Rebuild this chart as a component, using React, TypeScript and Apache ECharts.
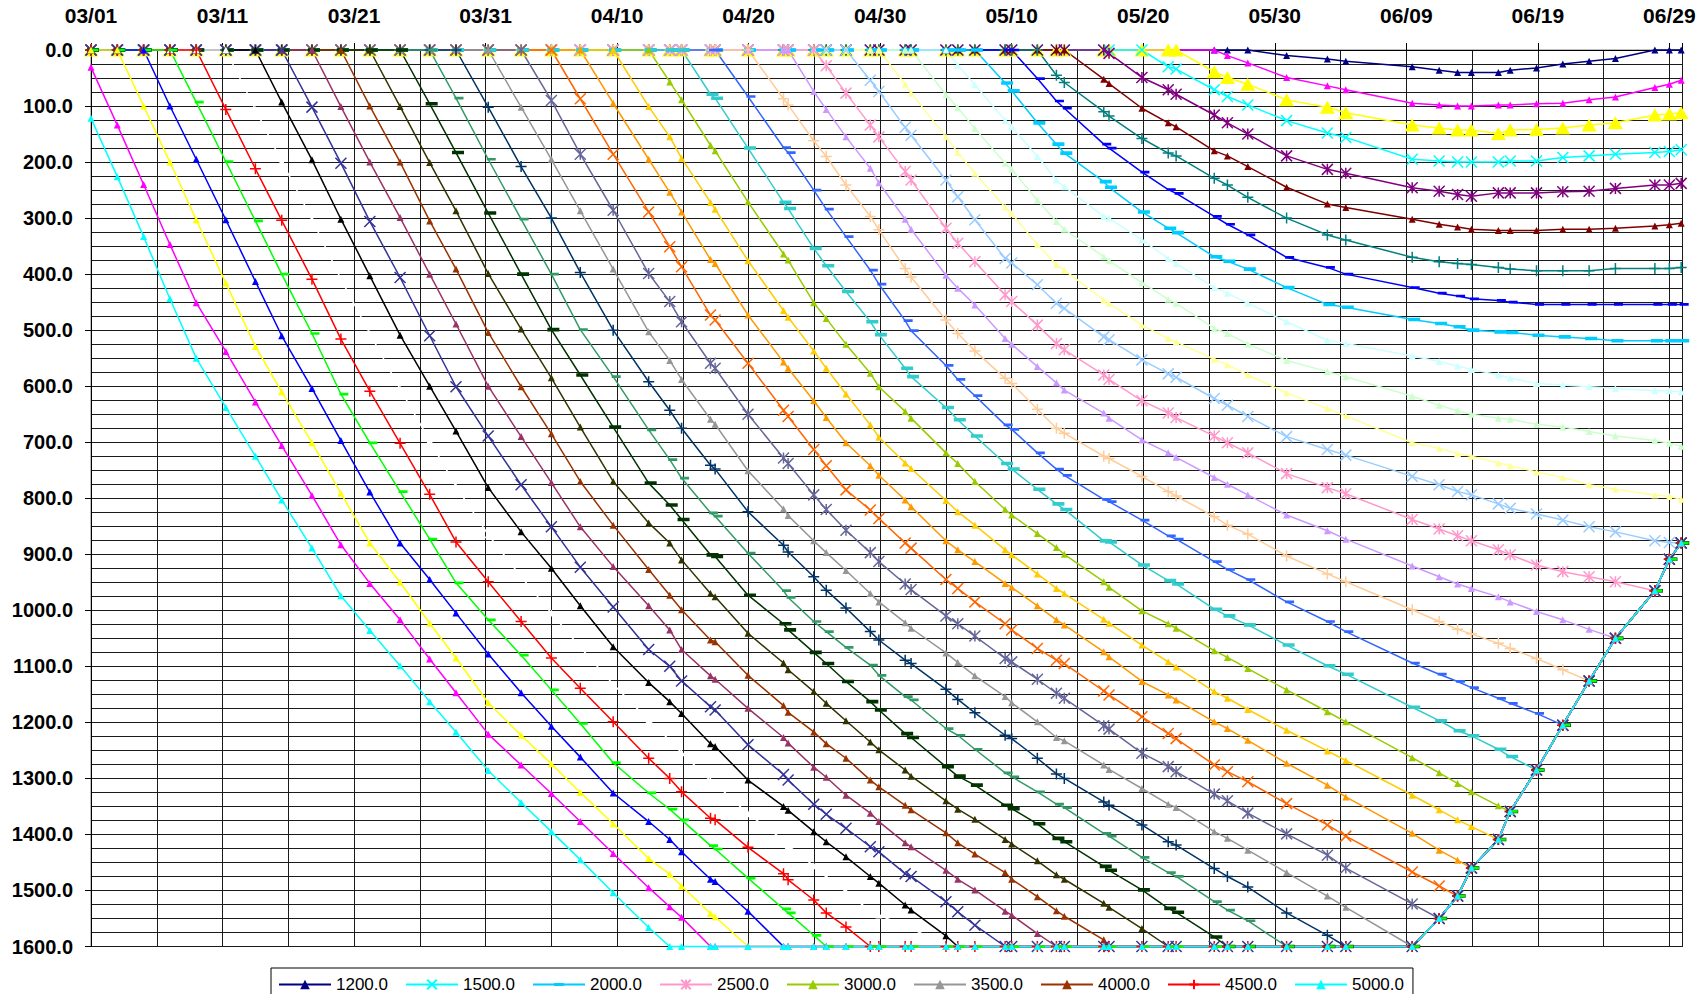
import React, { useEffect, useRef } from "react";
import * as echarts from "echarts";

// x positions of the observations, in days after 03/01
const days = [0, 2, 4, 6, 8, 10.25, 12.5, 14.5, 16.8, 19, 21.2, 23.5, 25.75, 27.75, 30.2, 32.7, 35, 37.2, 39.7, 42.4, 44, 44.9, 47.1, 47.45, 49.95, 52.65, 53, 54.95, 55.9, 57.4, 59.25, 59.9, 61.9, 62.35, 65, 65.9, 67.2, 69.5, 70, 71.95, 73.4, 74, 77, 77.4, 79.9, 81.9, 82.5, 85.4, 86.4, 87.95, 90.9, 94, 95.4, 100.45, 102.5, 103.9, 104.95, 107, 107.9, 109.9, 111.9, 113.9, 115.9, 118.9, 120, 120.9];

// common lower limit that all series follow once they reach it
const floorDepth = [1600, 1600, 1600, 1600, 1600, 1600, 1600, 1600, 1600, 1600, 1600, 1600, 1600, 1600, 1600, 1600, 1600, 1600, 1600, 1600, 1600, 1600, 1600, 1600, 1600, 1600, 1600, 1600, 1600, 1600, 1600, 1600, 1600, 1600, 1600, 1600, 1600, 1600, 1600, 1600, 1600, 1600, 1600, 1600, 1600, 1600, 1600, 1600, 1600, 1600, 1600, 1600, 1600, 1600, 1550, 1510, 1460, 1409, 1359, 1285, 1205, 1126, 1050, 965, 909, 880];

const xTickLabels = ["03/01", "03/11", "03/21", "03/31", "04/10", "04/20", "04/30", "05/10", "05/20", "05/30", "06/09", "06/19", "06/29"];
const yTickLabels = ["0.0", "100.0", "200.0", "300.0", "400.0", "500.0", "600.0", "700.0", "800.0", "900.0", "1000.0", "1100.0", "1200.0", "1300.0", "1400.0", "1500.0", "1600.0"];

const legendNames = ["1200.0", "1500.0", "2000.0", "2500.0", "3000.0", "3500.0", "4000.0", "4500.0", "5000.0"];

// number of leading zero observations for each series
const leads = [50, 48, 47, 45, 43, 42, 40, 39, 37, 35, 34, 32, 30, 28, 27, 25, 24, 22, 20, 19, 18, 17, 16, 15, 14, 13, 12, 11, 10, 9, 8, 7, 6, 5, 4, 3, 2, 0, 0];

// values after the leading zeros (until the series joins the common limit)
const s1200 = [10, 16, 20, 30, 36, 40, 40, 40, 36, 32, 25, 20, 15, 0, 0, 0];
const s1300 = [10, 23, 49, 64, 71, 95, 98, 100, 100, 98, 98, 96, 95, 89, 84, 67, 61, 54];
const s1400 = [39, 49, 61, 89, 102, 112, 134, 139, 143, 143, 149, 143, 142, 139, 134, 130, 116, 114, 112];
const s1500 = [30, 34, 71, 83, 98, 126, 148, 156, 195, 198, 200, 200, 200, 198, 198, 192, 189, 186, 183, 181, 178];
const s1600 = [6, 49, 71, 79, 116, 130, 150, 189, 213, 220, 246, 252, 258, 261, 255, 255, 255, 253, 252, 247, 241, 241, 238];
const s1700 = [52, 60, 104, 130, 137, 180, 189, 208, 245, 275, 281, 302, 311, 316, 320, 322, 322, 322, 320, 320, 318, 314, 312, 309];
const s1800 = [45, 58, 110, 118, 158, 184, 189, 229, 241, 263, 300, 330, 339, 370, 378, 381, 383, 388, 391, 394, 394, 394, 390, 390, 390, 388];
const s1900 = [51, 91, 104, 168, 175, 218, 249, 256, 297, 311, 330, 370, 388, 400, 424, 434, 439, 444, 447, 450, 454, 454, 454, 454, 454, 454, 454];
const s2000 = [59, 73, 130, 168, 184, 235, 245, 289, 318, 326, 369, 377, 391, 424, 454, 459, 481, 488, 494, 500, 503, 504, 509, 512, 515, 519, 519, 519, 519];
const s2100 = [27, 62, 126, 137, 190, 232, 244, 297, 300, 339, 372, 381, 424, 434, 452, 485, 518, 524, 546, 556, 564, 570, 580, 586, 595, 598, 601, 604, 608, 608, 610];
const s2200 = [80, 103, 140, 202, 213, 268, 306, 320, 369, 376, 415, 445, 452, 497, 506, 525, 554, 574, 583, 618, 634, 644, 650, 657, 659, 668, 673, 681, 689, 697, 702, 707];
const s2300 = [61, 77, 155, 183, 220, 280, 292, 347, 383, 393, 446, 452, 491, 515, 521, 552, 562, 580, 612, 640, 653, 701, 711, 720, 725, 737, 742, 753, 763, 776, 784, 794, 797, 802];
const s2400 = [54, 74, 138, 152, 232, 262, 303, 372, 380, 419, 452, 461, 512, 517, 553, 578, 584, 622, 634, 654, 690, 713, 723, 761, 776, 788, 794, 810, 818, 828, 839, 851, 860, 876, 879, 880];
const s2500 = [28, 77, 134, 155, 217, 232, 318, 345, 378, 437, 449, 491, 524, 535, 580, 588, 626, 648, 656, 689, 701, 719, 756, 781, 792, 838, 855, 867, 876, 892, 901, 919, 931, 940, 949];
const s2600 = [74, 106, 155, 211, 237, 302, 320, 402, 425, 455, 515, 525, 565, 594, 607, 648, 657, 696, 719, 727, 763, 775, 794, 830, 858, 873, 921, 940, 953, 961, 976, 985, 1002, 1017, 1034];
const s2700 = [87, 98, 162, 190, 241, 297, 321, 390, 405, 482, 506, 537, 586, 595, 641, 675, 684, 725, 729, 761, 788, 796, 833, 848, 864, 903, 935, 949, 999, 1020, 1034, 1042, 1059, 1068, 1086, 1106];
const s2800 = [83, 174, 183, 250, 284, 333, 393, 418, 483, 501, 563, 588, 617, 669, 677, 719, 748, 759, 802, 806, 839, 867, 873, 913, 927, 945, 985, 1020, 1038, 1094, 1114, 1127, 1138, 1157, 1166, 1184];
const s2900 = [79, 86, 175, 272, 283, 354, 385, 431, 485, 508, 568, 583, 638, 660, 689, 738, 748, 784, 810, 820, 876, 878, 919, 947, 953, 998, 1010, 1026, 1062, 1099, 1114, 1173, 1197, 1215, 1224, 1248, 1261];
const s3000 = [57, 89, 170, 180, 271, 364, 375, 451, 479, 525, 577, 601, 645, 657, 719, 738, 770, 820, 830, 863, 888, 900, 949, 959, 1001, 1024, 1032, 1072, 1084, 1104, 1142, 1181, 1199, 1263, 1290, 1309, 1324, 1349];
const s3100 = [101, 155, 193, 272, 284, 376, 465, 477, 537, 568, 614, 669, 691, 737, 747, 804, 824, 848, 892, 901, 935, 961, 970, 1016, 1023, 1062, 1092, 1101, 1145, 1157, 1177, 1214, 1251, 1268, 1330, 1356, 1374, 1386];
const s3200 = [95, 195, 254, 289, 374, 381, 473, 557, 568, 626, 656, 701, 742, 759, 803, 815, 876, 892, 913, 952, 959, 992, 1017, 1026, 1074, 1083, 1127, 1151, 1160, 1199, 1211, 1232, 1273, 1312, 1333, 1398, 1428, 1446];
const s3300 = [87, 186, 289, 351, 387, 473, 482, 559, 643, 654, 713, 742, 785, 821, 836, 880, 889, 945, 961, 985, 1024, 1035, 1068, 1089, 1095, 1144, 1151, 1190, 1220, 1229, 1276, 1288, 1306, 1345, 1383, 1403, 1467, 1492];
const s3400 = [90, 186, 286, 399, 449, 485, 559, 568, 650, 728, 738, 794, 820, 857, 897, 913, 953, 963, 1010, 1024, 1046, 1086, 1092, 1123, 1148, 1157, 1206, 1212, 1255, 1279, 1288, 1328, 1340, 1362, 1399, 1437, 1460, 1524];
const s3500 = [102, 195, 287, 391, 503, 554, 588, 659, 668, 751, 819, 831, 876, 897, 929, 970, 985, 1022, 1032, 1076, 1093, 1117, 1154, 1165, 1199, 1227, 1233, 1276, 1284, 1318, 1346, 1352, 1395, 1407, 1428, 1468, 1510, 1530];
const s3600 = [102, 208, 300, 397, 500, 592, 643, 675, 741, 748, 824, 884, 896, 940, 964, 996, 1038, 1053, 1089, 1095, 1141, 1159, 1183, 1223, 1229, 1264, 1292, 1300, 1342, 1348, 1383, 1413, 1419, 1461, 1475, 1494, 1540, 1580];
const s3700 = [86, 195, 302, 400, 499, 583, 678, 731, 764, 826, 832, 898, 965, 977, 1020, 1038, 1066, 1098, 1116, 1154, 1160, 1211, 1223, 1248, 1290, 1297, 1324, 1346, 1352, 1398, 1403, 1441, 1468, 1475, 1520, 1535, 1554];
const s3800 = [96, 183, 291, 400, 499, 580, 673, 773, 812, 838, 901, 904, 973, 1024, 1035, 1075, 1095, 1127, 1163, 1178, 1220, 1227, 1279, 1296, 1312, 1348, 1354, 1381, 1407, 1413, 1457, 1464, 1499, 1532, 1539, 1583];
const s3900 = [101, 201, 287, 399, 498, 585, 673, 770, 844, 880, 910, 970, 976, 1041, 1094, 1106, 1145, 1166, 1197, 1235, 1249, 1285, 1296, 1340, 1355, 1373, 1409, 1417, 1447, 1472, 1480, 1523, 1530, 1568];
const s4000 = [100, 200, 305, 391, 504, 601, 685, 770, 848, 927, 973, 999, 1053, 1056, 1116, 1170, 1182, 1217, 1238, 1264, 1303, 1315, 1348, 1356, 1397, 1415, 1435, 1468, 1480, 1511, 1536, 1546, 1588];
const s4100 = [101, 200, 299, 400, 489, 600, 690, 772, 851, 922, 992, 1035, 1070, 1117, 1123, 1175, 1227, 1237, 1280, 1298, 1330, 1362, 1377, 1415, 1422, 1464, 1480, 1499, 1537, 1544, 1577];
const s4200 = [102, 202, 306, 406, 510, 601, 689, 776, 851, 923, 994, 1070, 1100, 1126, 1172, 1178, 1240, 1293, 1303, 1346, 1364, 1389, 1422, 1431, 1470, 1475, 1520, 1538, 1562];
const s4300 = [93, 196, 302, 403, 509, 600, 680, 781, 860, 925, 992, 1065, 1129, 1163, 1184, 1238, 1243, 1303, 1350, 1357, 1395, 1413, 1440, 1475, 1487, 1526, 1535, 1581];
const s4400 = [106, 199, 302, 409, 506, 605, 697, 779, 865, 940, 1005, 1066, 1132, 1196, 1232, 1254, 1304, 1309, 1363, 1410, 1420, 1456, 1476, 1502, 1537, 1544, 1563, 1567];
const s4500 = [106, 212, 304, 409, 516, 609, 702, 793, 878, 949, 1020, 1085, 1139, 1199, 1264, 1300, 1324, 1371, 1374, 1423, 1470, 1481, 1517, 1540, 1565];
const s4600 = [93, 199, 305, 400, 506, 614, 701, 788, 873, 951, 1017, 1080, 1142, 1202, 1272, 1326, 1355, 1374, 1420, 1426, 1478, 1533, 1540, 1580];
const s4700 = [100, 195, 303, 413, 510, 604, 697, 789, 880, 945, 1005, 1078, 1147, 1207, 1262, 1326, 1377, 1409, 1431, 1480, 1484, 1537];
const s4800 = [100, 200, 303, 416, 529, 610, 701, 791, 880, 950, 1023, 1085, 1165, 1223, 1274, 1325, 1381, 1443, 1471, 1492, 1541, 1547];
const s4900 = [31, 134, 240, 347, 451, 538, 628, 706, 795, 883, 952, 1017, 1087, 1147, 1221, 1276, 1327, 1377, 1434, 1495, 1529, 1548];
const s5000 = [122, 226, 333, 444, 550, 638, 725, 803, 889, 974, 1036, 1099, 1163, 1217, 1286, 1343, 1395, 1445, 1504, 1566];

const seriesNames = ["1200.0", "1300.0", "1400.0", "1500.0", "1600.0", "1700.0", "1800.0", "1900.0", "2000.0", "2100.0", "2200.0", "2300.0", "2400.0", "2500.0", "2600.0", "2700.0", "2800.0", "2900.0", "3000.0", "3100.0", "3200.0", "3300.0", "3400.0", "3500.0", "3600.0", "3700.0", "3800.0", "3900.0", "4000.0", "4100.0", "4200.0", "4300.0", "4400.0", "4500.0", "4600.0", "4700.0", "4800.0", "4900.0", "5000.0"];
const seriesValues = [s1200, s1300, s1400, s1500, s1600, s1700, s1800, s1900, s2000, s2100, s2200, s2300, s2400, s2500, s2600, s2700, s2800, s2900, s3000, s3100, s3200, s3300, s3400, s3500, s3600, s3700, s3800, s3900, s4000, s4100, s4200, s4300, s4400, s4500, s4600, s4700, s4800, s4900, s5000];
const seriesColors = ["#000080", "#FF00FF", "#FFFF00", "#00FFFF", "#800080", "#800000", "#008080", "#0000FF", "#00CCFF", "#CCFFFF", "#CCFFCC", "#FFFF99", "#99CCFF", "#FF99CC", "#CC99FF", "#FFCC99", "#3366FF", "#33CCCC", "#99CC00", "#FFCC00", "#FF9900", "#FF6600", "#666699", "#969696", "#003366", "#339966", "#003300", "#333300", "#993300", "#993366", "#333399", "#000000", "#FFFFFF", "#FF0000", "#00FF00", "#0000FF", "#FFFF00", "#FF00FF", "#00FFFF"];
const seriesMarkers = ["tri", "tri", "bigtri", "x", "star", "tri", "plus", "dashS", "dashL", "tri", "tri", "tri", "x", "star", "tri", "plus", "dashS", "dashL", "tri", "tri", "tri", "x", "star", "tri", "plus", "dashS", "dashL", "tri", "tri", "tri", "x", "tri", "tri", "plus", "dashS", "tri", "tri", "tri", "tri"];

const FONT = '"Liberation Sans", Arial, Helvetica, sans-serif';

// horizontal bar inside a square 10x10 box (degenerate end points keep the box square)
const DASH_PATH = "path://M0,0L0.01,0M0,3.5L10,3.5L10,6.5L0,6.5ZM0,10L0.01,10";

const markerStyles: Record<string, any> = {
  tri: { symbol: "triangle", symbolSize: 7, stroke: false },
  bigtri: { symbol: "triangle", symbolSize: [15, 13], stroke: false },
  x: { symbol: "path://M0,0L10,10M10,0L0,10", symbolSize: 11, stroke: true },
  star: { symbol: "path://M0,0L10,10M10,0L0,10M5,0L5,10", symbolSize: 11, stroke: true },
  plus: { symbol: "path://M5,0L5,10M0,5L10,5", symbolSize: 11, stroke: true },
  dashS: { symbol: DASH_PATH, symbolSize: 9, symbolOffset: [3, 0], stroke: false },
  dashL: { symbol: DASH_PATH, symbolSize: 12, symbolOffset: [2, 0], stroke: false },
};

function buildSeries() {
  return seriesNames.map((name, k) => {
    const lead = leads[k];
    const vals = seriesValues[k];
    const data = days.map((d, i) => {
      let v: number;
      if (i < lead) v = 0;
      else if (i - lead < vals.length) v = vals[i - lead];
      else v = floorDepth[i];
      return [d, v];
    });
    const color = seriesColors[k];
    const m = markerStyles[seriesMarkers[k]];
    return {
      name,
      type: "line",
      xAxisIndex: 0,
      yAxisIndex: 0,
      data,
      symbol: m.symbol,
      symbolSize: m.symbolSize,
      symbolOffset: m.symbolOffset || [0, 0],
      showSymbol: true,
      showAllSymbol: true,
      clip: false,
      silent: true,
      lineStyle: { color, width: 1.5 },
      itemStyle: m.stroke
        ? { color, borderColor: color, borderWidth: 1.5 }
        : { color, borderColor: color, borderWidth: 0 },
      emphasis: { disabled: true },
    };
  });
}

export default function App() {
  const ref = useRef<HTMLDivElement>(null);
  useEffect(() => {
    document.body.style.margin = "0";
    if (!ref.current) return;
    const chart = echarts.init(ref.current, undefined, { renderer: "svg" });
    const gridLine = { show: true, lineStyle: { color: "#1a1a1a", width: 1 } };
    const option: any = {
      animation: false,
      backgroundColor: "#ffffff",
      textStyle: { fontFamily: FONT },
      grid: {
        left: 91,
        right: 17.5,
        top: 50,
        bottom: 47.5,
        show: true,
        borderColor: "#808080",
        borderWidth: 1,
        backgroundColor: "transparent",
      },
      legend: {
        data: legendNames,
        left: 271,
        top: 968,
        orient: "horizontal",
        itemWidth: 52,
        itemHeight: 12,
        itemGap: 17,
        padding: [8, 9, 8, 7],
        borderColor: "#000",
        borderWidth: 1,
        backgroundColor: "#fff",
        selectedMode: false,
        textStyle: { fontSize: 17, color: "#000", fontFamily: FONT },
      },
      xAxis: [
        {
          type: "value",
          position: "top",
          min: 0,
          max: 121,
          interval: 10,
          axisLine: { show: true, onZero: false, lineStyle: { color: "#000", width: 1 } },
          axisTick: { show: true, inside: false, length: 7, lineStyle: { color: "#000" } },
          axisLabel: {
            margin: 24,
            fontSize: 21,
            fontWeight: "bold",
            color: "#000",
            fontFamily: FONT,
            formatter: (v: number) => {
              const k = Math.round(v / 10);
              return Math.abs(v - k * 10) < 1e-6 && xTickLabels[k] ? xTickLabels[k] : "";
            },
          },
          splitLine: gridLine,
        },
        {
          type: "value",
          position: "top",
          min: 0,
          max: 121,
          interval: 5,
          axisLine: { show: false },
          axisTick: { show: false },
          axisLabel: { show: false },
          splitLine: gridLine,
        },
      ],
      yAxis: [
        {
          type: "value",
          inverse: true,
          min: 0,
          max: 1600,
          interval: 100,
          axisLine: { show: true, onZero: false, lineStyle: { color: "#000", width: 1 } },
          axisTick: { show: true, inside: false, length: 6, lineStyle: { color: "#000" } },
          axisLabel: {
            margin: 18,
            fontSize: 20,
            fontWeight: "bold",
            color: "#000",
            fontFamily: FONT,
            formatter: (v: number) => {
              const k = Math.round(v / 100);
              return yTickLabels[k] ?? "";
            },
          },
          splitLine: gridLine,
        },
        {
          type: "value",
          inverse: true,
          min: 0,
          max: 1600,
          interval: 25,
          position: "left",
          axisLine: { show: false },
          axisTick: { show: false },
          axisLabel: { show: false },
          splitLine: gridLine,
        },
      ],
      series: buildSeries(),
    };
    chart.setOption(option);
    return () => chart.dispose();
  }, []);
  return <div ref={ref} style={{ width: 1700, height: 994 }} />;
}
